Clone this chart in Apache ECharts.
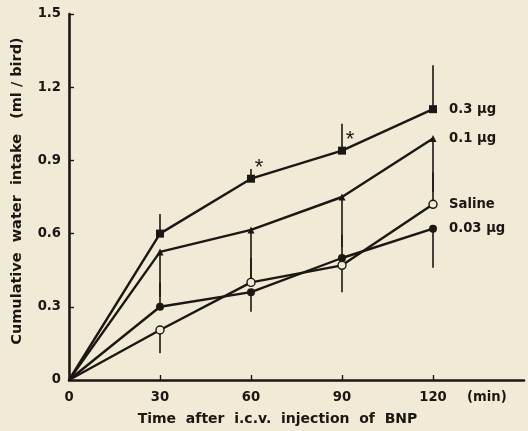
<!DOCTYPE html>
<html>
<head>
<meta charset="utf-8">
<script src="https://cdn.jsdelivr.net/npm/echarts@6/dist/echarts.min.js"></script>
<style>
html,body{margin:0;padding:0;background:#f0ead6;}
#c{width:528px;height:431px;}
</style>
</head>
<body>
<div id="c"></div>
<script>
var times = [0, 30, 60, 90, 120];
var xLabels = [0, 30, 60, 90, 120];
var yTicks = [0, 0.3, 0.6, 0.9, 1.2, 1.5];

var names = ['0.3 μg', '0.1 μg', 'Saline', '0.03 μg'];
var dose03 = [0, 0.60, 0.825, 0.94, 1.11];
var dose01 = [0, 0.525, 0.615, 0.75, 0.99];
var saline = [0, 0.205, 0.40, 0.47, 0.72];
var dose003 = [0, 0.30, 0.36, 0.50, 0.62];

// error bar end values (one-sided bars)
var dose03Err = [null, 0.68, 0.865, 1.05, 1.29];
var dose01Err = [null, 0.34, 0.41, 0.545, 0.77];
var salineErr = [null, 0.11, 0.50, 0.36, 0.85];
var dose003Err = [null, 0.40, 0.28, 0.595, 0.46];

var dose03Sig = [false, false, true, true, false];

var FONT = 'DejaVu Sans';
var FS = 13.2;
var INK = '#1b1712';
var BG = '#f0ead6';

function pts(vals, sig) {
  return times.map(function (t, i) {
    var item = { value: [t, vals[i]] };
    if (sig && sig[i]) {
      item.label = {
        show: true, formatter: '*', position: 'top', distance: 0,
        offset: [8, 4], fontSize: 22, color: INK, fontFamily: 'Liberation Sans'
      };
    }
    return item;
  });
}
function errData(vals, errs) {
  var out = [];
  times.forEach(function (t, i) {
    if (errs[i] !== null) out.push([t, vals[i], errs[i]]);
  });
  return out;
}
function errSeries(vals, errs) {
  return {
    type: 'custom',
    silent: true,
    z: 1,
    data: errData(vals, errs),
    renderItem: function (params, api) {
      var a = api.coord([api.value(0), api.value(1)]);
      var b = api.coord([api.value(0), api.value(2)]);
      return {
        type: 'line',
        shape: { x1: a[0], y1: a[1], x2: b[0], y2: b[1] },
        style: { stroke: INK, lineWidth: 1.6 }
      };
    }
  };
}
function lineSeries(name, vals, symbol, size, fill, sig) {
  return {
    type: 'line',
    name: name,
    data: pts(vals, sig),
    symbol: symbol,
    symbolSize: size,
    showAllSymbol: true,
    z: 3,
    lineStyle: { color: INK, width: 2.4 },
    itemStyle: { color: fill, borderColor: INK, borderWidth: fill === BG ? 1.4 : 0 },
    endLabel: {
      show: true, formatter: name, distance: 16,
      fontFamily: FONT, fontWeight: 'bold', fontSize: FS, color: INK
    },
    animation: false
  };
}

var chart = echarts.init(document.getElementById('c'), null, { renderer: 'canvas' });
var series = [
  errSeries(dose03, dose03Err),
  errSeries(dose01, dose01Err),
  errSeries(saline, salineErr),
  errSeries(dose003, dose003Err),
  lineSeries(names[0], dose03, 'rect', 8, INK, dose03Sig),
  lineSeries(names[1], dose01, 'triangle', 7, INK),
  lineSeries(names[2], saline, 'circle', 8, BG),
  lineSeries(names[3], dose003, 'circle', 8, INK)
];
// blank out symbol at time 0
series.slice(4).forEach(function (s) {
  s.data[0].symbol = 'none';
  s.data[0].symbolSize = 0;
});

chart.setOption({
  backgroundColor: BG,
  animation: false,
  grid: { left: 69, right: 4, top: 14, bottom: 51, containLabel: false },
  xAxis: {
    type: 'value', min: 0, max: 150, interval: 30,
    name: 'Time  after  i.c.v.  injection  of  BNP',
    nameLocation: 'middle', nameGap: 32,
    nameTextStyle: { fontFamily: FONT, fontWeight: 'bold', fontSize: 14, color: INK, padding: [0, 38, 0, 0] },
    axisLine: { lineStyle: { color: INK, width: 2.6 } },
    axisTick: { inside: true, length: 5, lineStyle: { color: INK, width: 1.4 }, customValues: [30, 60, 90, 120] },
    axisLabel: { customValues: xLabels, margin: 11, fontFamily: FONT, fontWeight: 'bold', fontSize: FS, color: INK },
    splitLine: { show: false }
  },
  yAxis: {
    type: 'value', min: 0, max: 1.5, interval: 0.3,
    name: 'Cumulative  water  intake   (ml / bird)',
    nameLocation: 'middle', nameGap: 44,
    nameTextStyle: { fontFamily: FONT, fontWeight: 'bold', fontSize: 14.5, color: INK, padding: [0, 0, 0, 12] },
    axisLine: { lineStyle: { color: INK, width: 2.6 } },
    axisTick: { inside: true, length: 5, lineStyle: { color: INK, width: 1.4 }, customValues: yTicks.slice(1) },
    axisLabel: {
      margin: 8, fontFamily: FONT, fontWeight: 'bold', fontSize: FS, color: INK,
      formatter: function (v) { return v === 0 ? '0' : v.toFixed(1); }
    },
    splitLine: { show: false }
  },
  graphic: [{
    type: 'text', left: 467, top: 391,
    style: { text: '(min)', fontFamily: FONT, fontWeight: 'bold', fontSize: FS, fill: INK }
  }],
  series: series
});
</script>
</body>
</html>
